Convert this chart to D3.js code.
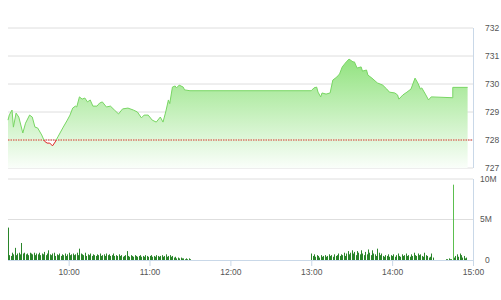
<!DOCTYPE html>
<html>
<head>
<meta charset="utf-8">
<script src="https://cdn.jsdelivr.net/npm/d3@7"></script>
<style>
  body { margin: 0; background: #fff; }
  svg { display: block; font-family: "Liberation Sans", Arial, sans-serif; }
  .lbl { font-size: 8.5px; fill: #555; }
</style>
</head>
<body>
<svg id="chart" width="501" height="300"></svg>
<script>
(function() {
  var priceTimes, priceValues, refPrice, priceTicks, volTicks, volTickLabels, hourTicks;
  var volMorning, volAfternoon, volClose, sessionStarts;
  var svg, x, y, yv, parse, day, defs, line, area, yRef, pts, bars;

  // price line (time, index value)
  priceTimes = ['09:15', '09:16', '09:18', '09:19', '09:21', '09:23', '09:26', '09:28', '09:31', '09:33', '09:35',
    '09:37', '09:40', '09:42', '09:44', '09:46', '09:48', '09:50', '09:52', '09:56', '09:59',
    '10:01', '10:03', '10:05', '10:06', '10:08', '10:10', '10:12', '10:14', '10:16', '10:18',
    '10:21', '10:23', '10:25', '10:28', '10:31', '10:34', '10:37', '10:40', '10:44', '10:48',
    '10:51', '10:54', '10:56', '10:59', '11:02', '11:05', '11:08', '11:10', '11:12', '11:14',
    '11:15', '11:17', '11:19', '11:20', '11:22', '11:25', '11:26', '11:30', '13:00', '13:02',
    '13:04', '13:05', '13:07', '13:08', '13:11', '13:14', '13:16', '13:19', '13:21', '13:23',
    '13:26', '13:28', '13:31', '13:32', '13:34', '13:37', '13:38', '13:41', '13:42', '13:45',
    '13:49', '13:53', '13:56', '13:58', '14:02', '14:04', '14:05', '14:08', '14:11', '14:14',
    '14:17', '14:19', '14:21', '14:22', '14:25', '14:27', '14:29', '14:45', '14:45', '14:56'];
  priceValues = [728.71, 728.90, 729.07, 728.46, 728.96, 728.82, 728.25, 728.60, 728.89, 728.82, 728.46,
    728.43, 728.18, 727.96, 727.89, 727.89, 727.79, 727.93, 728.11, 728.46, 728.71,
    728.89, 729.14, 729.21, 729.18, 729.54, 729.46, 729.50, 729.36, 729.43, 729.21,
    729.21, 729.32, 729.36, 729.18, 729.21, 729.07, 728.93, 729.11, 729.14, 729.07,
    729.00, 728.79, 728.89, 728.89, 728.71, 728.64, 728.82, 728.64, 729.00, 729.43,
    729.30, 729.89, 729.93, 729.86, 729.96, 729.89, 729.79, 729.76, 729.76, 729.86,
    729.89, 729.71, 729.54, 729.68, 729.64, 729.68, 730.14, 730.25, 730.36, 730.61,
    730.79, 730.89, 730.79, 730.79, 730.57, 730.61, 730.46, 730.50, 730.32, 730.21,
    730.04, 729.96, 729.82, 729.71, 729.68, 729.61, 729.46, 729.61, 729.71, 729.82,
    730.21, 730.04, 729.82, 729.86, 729.61, 729.43, 729.54, 729.51, 729.88, 729.88];
  refPrice = 728;
  priceTicks = [727, 728, 729, 730, 731, 732];

  // volume per minute, in 100k shares, each list starting at its session start
  sessionStarts = ['09:15', '13:00', '14:40'];
  volMorning = [40, 6, 5, 9, 7, 15, 6, 8, 9, 7,
    21, 8, 9, 7, 8, 6, 9, 8, 7, 9,
    6, 8, 7, 9, 6, 8, 7, 10, 6, 8,
    12, 7, 6, 8, 9, 5, 7, 6, 8, 5,
    7, 6, 8, 5, 7, 9, 6, 7, 8, 6,
    7, 9, 6, 14, 8, 7, 6, 9, 5, 7,
    6, 8, 5, 7, 6, 5, 7, 6, 8, 5,
    6, 7, 5, 8, 6, 7, 5, 6, 8, 5,
    6, 5, 7, 5, 6, 4, 5, 6, 11, 5,
    4, 6, 5, 4, 6, 5, 4, 5, 6, 4,
    5, 4, 6, 5, 4, 5, 6, 4, 5, 4,
    6, 5, 4, 5, 6, 4, 5, 7, 4, 5,
    6, 4, 5, 3, 4, 2, 3, 2, 3, 2,
    2, 1, 2, 1, 2, 1];
  volAfternoon = [8, 5, 7, 4, 6, 5, 3, 6, 4, 5,
    6, 4, 5, 7, 5, 6, 4, 7, 5, 6,
    8, 5, 7, 6, 9, 5, 8, 11, 7, 9,
    12, 8, 10, 6, 11, 9, 7, 12, 8, 6,
    10, 7, 13, 9, 6, 12, 8, 7, 5, 14,
    9, 6, 8, 5, 4, 6, 5, 7, 4, 6,
    5, 7, 4, 6, 8, 5, 4, 7, 5, 6,
    8, 5, 6, 4, 7, 5, 9, 6, 5, 8,
    6, 7, 5, 4, 9, 6, 5, 3, 4, 8, 3];
  volClose = [1, 1, 2, 1, 1, 93, 3, 5, 7, 4, 8, 6, 3, 5, 2, 3];
  volTicks = [0, 50, 100];
  volTickLabels = ['0', '5M', '10M'];
  hourTicks = ['10:00', '11:00', '12:00', '13:00', '14:00', '15:00'];

  day = '2000-01-01 ';
  parse = d3.timeParse('%Y-%m-%d %H:%M');
  function t(s) { return parse(day + s); }

  svg = d3.select('#chart');

  x = d3.scaleTime().domain([t('09:15'), t('15:00')]).range([8, 473]);
  y = d3.scaleLinear().domain([727, 732]).range([168, 28]);
  yv = d3.scaleLinear().domain([0, 100]).range([260, 179]);
  yRef = y(refPrice);

  pts = priceTimes.map(function(s, i) {
    return { time: t(s), value: priceValues[i] };
  });

  defs = svg.append('defs');
  var grad = defs.append('linearGradient').attr('id', 'fillGrad')
    .attr('gradientUnits', 'userSpaceOnUse')
    .attr('x1', 0).attr('x2', 0).attr('y1', y(731)).attr('y2', y(727));
  grad.append('stop').attr('offset', '0%').attr('stop-color', '#8fe27c');
  grad.append('stop').attr('offset', '100%').attr('stop-color', '#fafefa');
  defs.append('clipPath').attr('id', 'above').append('rect')
    .attr('x', 0).attr('y', 0).attr('width', 501).attr('height', yRef);
  defs.append('clipPath').attr('id', 'below').append('rect')
    .attr('x', 0).attr('y', yRef).attr('width', 501).attr('height', 60);

  // price gridlines
  svg.append('g').selectAll('line').data(priceTicks).enter().append('line')
    .attr('x1', 8).attr('x2', 473)
    .attr('y1', function(d) { return y(d); }).attr('y2', function(d) { return y(d); })
    .attr('stroke', '#dedede').attr('stroke-width', 1);

  area = d3.area().x(function(d) { return x(d.time); })
    .y0(y(727)).y1(function(d) { return y(d.value); });
  line = d3.line().x(function(d) { return x(d.time); })
    .y(function(d) { return y(d.value); });

  svg.append('path').datum(pts).attr('d', area).attr('fill', 'url(#fillGrad)');

  // reference line
  svg.append('line').attr('x1', 8).attr('x2', 473).attr('y1', yRef).attr('y2', yRef)
    .attr('stroke', '#d8322a').attr('stroke-width', 1).attr('stroke-dasharray', '1.5,1');

  svg.append('path').datum(pts).attr('d', line).attr('fill', 'none')
    .attr('stroke', '#78d663').attr('stroke-width', 1).attr('clip-path', 'url(#above)');
  svg.append('path').datum(pts).attr('d', line).attr('fill', 'none')
    .attr('stroke', '#e02424').attr('stroke-width', 1).attr('clip-path', 'url(#below)');

  // right border of price panel
  svg.append('line').attr('x1', 473.5).attr('x2', 473.5).attr('y1', y(732)).attr('y2', y(727))
    .attr('stroke', '#c9d8e8');

  svg.append('g').selectAll('text').data(priceTicks).enter().append('text')
    .attr('class', 'lbl').attr('x', 485).attr('y', function(d) { return y(d); })
    .attr('dy', '0.35em').text(function(d) { return d; });

  // volume panel
  svg.append('g').selectAll('line').data(volTicks.slice(1)).enter().append('line')
    .attr('x1', 8).attr('x2', 473)
    .attr('y1', function(d) { return yv(d); }).attr('y2', function(d) { return yv(d); })
    .attr('stroke', '#dedede');
  svg.append('line').attr('x1', 473.5).attr('x2', 473.5).attr('y1', yv(100)).attr('y2', yv(0))
    .attr('stroke', '#c9d8e8');

  bars = [];
  [volMorning, volAfternoon, volClose].forEach(function(list, k) {
    var start = t(sessionStarts[k]);
    list.forEach(function(v, i) {
      bars.push({ time: d3.timeMinute.offset(start, i), value: v });
    });
  });

  svg.append('g').selectAll('rect').data(bars).enter().append('rect')
    .attr('x', function(d) { return Math.round(x(d.time)); })
    .attr('width', 1)
    .attr('y', function(d) { return yv(d.value); })
    .attr('height', function(d) { return yv(0) - yv(d.value); })
    .attr('fill', function(d) { return d.value > 60 ? '#5cbf4f' : '#2a852a'; });

  var xAxis = d3.axisBottom(x)
    .tickValues(hourTicks.map(t))
    .tickFormat(d3.timeFormat('%H:%M'))
    .tickSize(6).tickPadding(3);
  var ax = svg.append('g').attr('transform', 'translate(0,' + yv(0) + ')').call(xAxis);
  ax.select('.domain').attr('stroke', '#c9d8e8').attr('d', 'M8,0.5H473');
  ax.selectAll('.tick line').attr('stroke', '#c9d8e8');
  ax.selectAll('.tick text').attr('class', 'lbl').attr('fill', '#555')
    .style('font-size', '8.5px').style('font-family', '"Liberation Sans", Arial, sans-serif');

  svg.append('g').selectAll('text').data(volTicks).enter().append('text')
    .attr('class', 'lbl').attr('x', function(d) { return d === 0 ? 485 : 480; })
    .attr('y', function(d) { return yv(d); })
    .attr('dy', '0.35em').text(function(d, i) { return volTickLabels[i]; });
}).call(this);
</script>
</body>
</html>
